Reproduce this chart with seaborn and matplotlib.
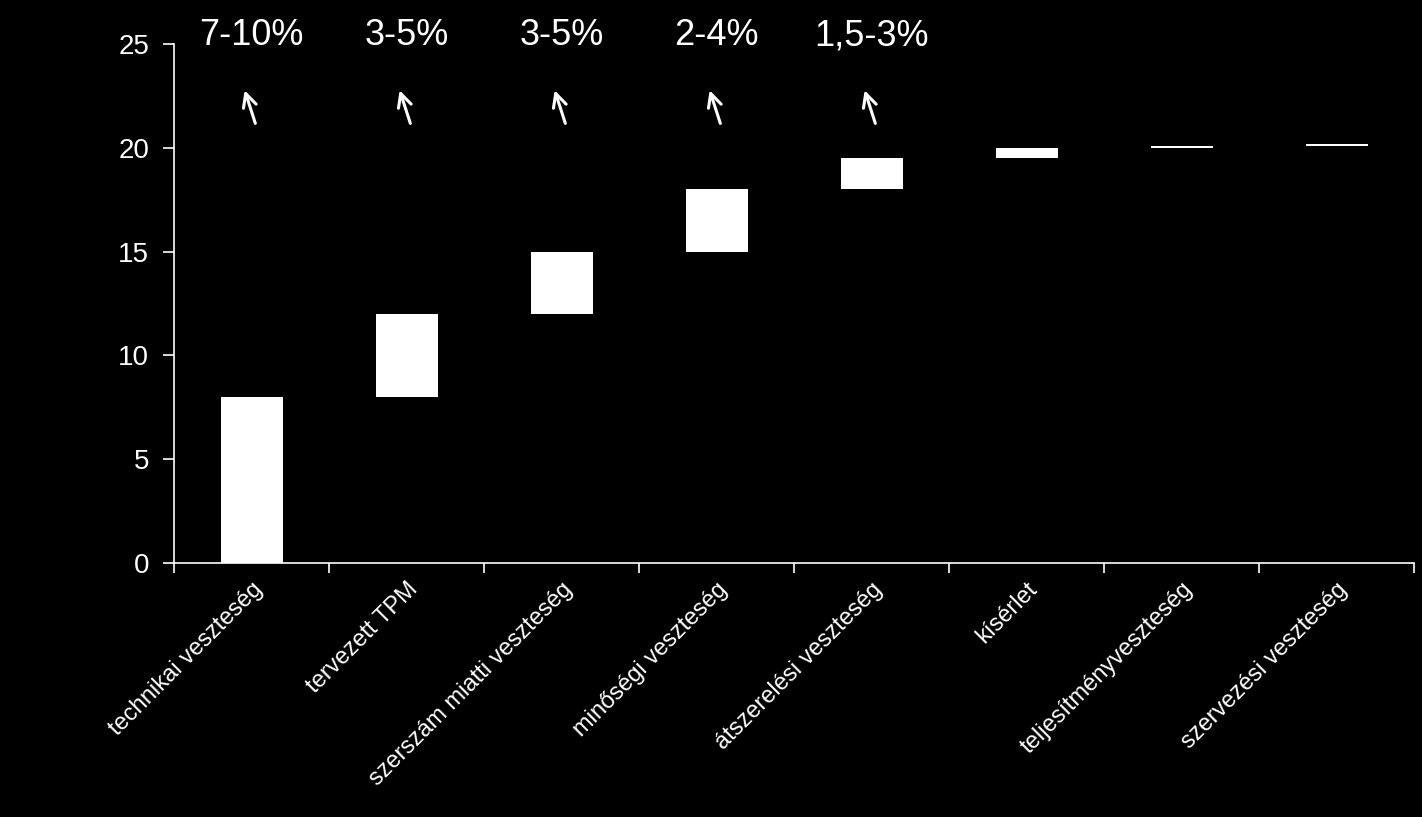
import matplotlib
matplotlib.use('Agg')
import matplotlib.pyplot as plt
import numpy as np
import seaborn as sns

categories = ["technikai veszteség", "tervezett TPM", "szerszám miatti veszteség",
              "minőségi veszteség", "átszerelési veszteség", "kísérlet",
              "teljesítményveszteség", "szervezési veszteség"]
steps = [8, 4, 3, 3, 1.5, 0.5, 0.1, 0.1]
ranges = ["7-10%", "3-5%", "3-5%", "2-4%", "1,5-3%"]

bases = np.concatenate([[0], np.cumsum(steps)[:-1]])

sns.set_style("dark")
plt.rcParams['font.family'] = ['Liberation Sans', 'DejaVu Sans']

fig = plt.figure(figsize=(14.22, 8.17), dpi=100, facecolor='black')
ax = fig.add_axes([0.1224, 0.3109, 0.872, 0.6352])
ax.set_facecolor('black')

sns.barplot(x=categories, y=steps, bottom=bases, color='white', width=0.4,
            saturation=1, edgecolor='none', ax=ax)

ax.set_xlim(-0.5, len(categories) - 0.5)
ax.set_ylim(0, 25)
ax.set_yticks([0, 5, 10, 15, 20, 25])
ax.tick_params(axis='y', colors='white', labelsize=20, length=8, width=1.2,
               direction='out', left=True, pad=10)
ax.set_xticks(range(len(categories)))
ax.set_xticklabels(categories, rotation=45, ha='right', rotation_mode='anchor',
                   color='white', fontsize=17)
ax.tick_params(axis='x', length=0, pad=11)
ax.set_xticks(np.arange(-0.5, len(categories), 1), minor=True)
ax.tick_params(axis='x', which='minor', length=7, width=1.2, color='white',
               direction='out', bottom=True)
for s in ['top', 'right']:
    ax.spines[s].set_visible(False)
for s in ['left', 'bottom']:
    ax.spines[s].set_visible(True)
    ax.spines[s].set_color('white')
    ax.spines[s].set_linewidth(1.2)
ax.grid(False)
ax.set_xlabel('')
ax.set_ylabel('')

for i, txt in enumerate(ranges):
    ax.text(i, 25.4, txt, color='white', fontsize=26, ha='center', va='center',
            clip_on=False)
    ax.annotate('', xy=(i - 0.05, 22.9), xytext=(i + 0.03, 21.05),
                arrowprops=dict(arrowstyle='->', color='white', lw=2.2,
                                mutation_scale=24),
                annotation_clip=False)

fig.savefig("out.png", dpi=100, facecolor='black')
